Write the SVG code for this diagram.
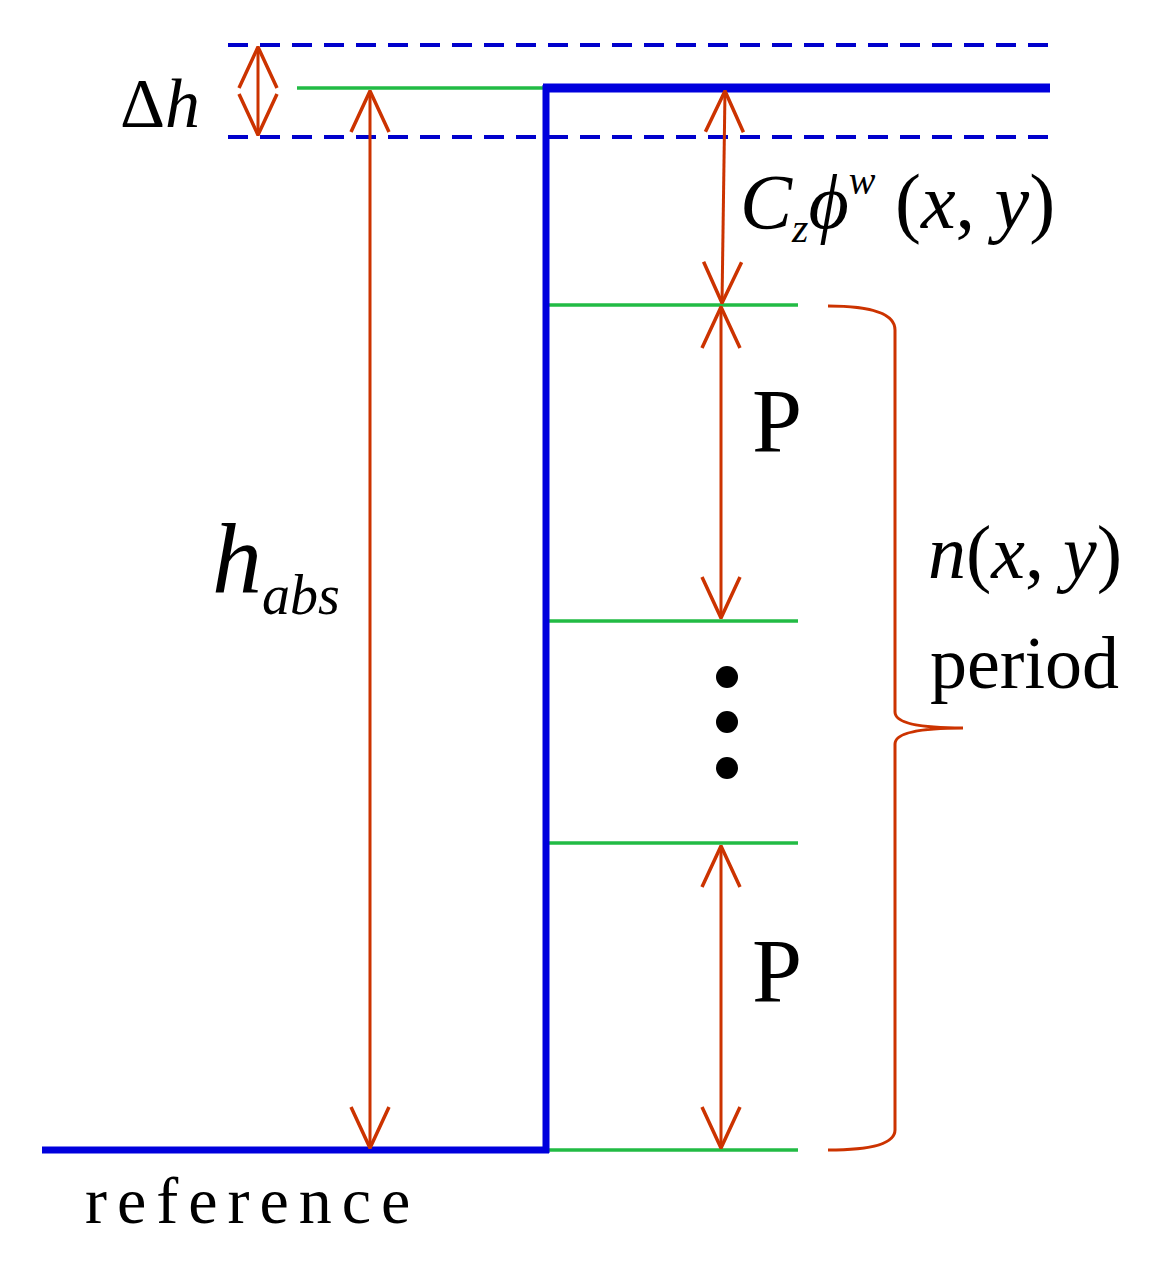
<svg xmlns="http://www.w3.org/2000/svg" width="1160" height="1264" viewBox="0 0 1160 1264">
<style>
.dash{stroke:#0000cc;stroke-width:4;stroke-dasharray:20,12;fill:none}
.blue{stroke:#0000dd;fill:none}
.green{stroke:#22bb44;stroke-width:3.5;fill:none}
.arr{stroke:#cc3300;stroke-width:3;fill:none;marker-start:url(#ah);marker-end:url(#ah)}
.t{font-family:"Liberation Serif",serif;fill:#000}
</style>
<defs>
<marker id="ah" viewBox="0 0 44 44" refX="43" refY="22" markerWidth="44" markerHeight="44" markerUnits="userSpaceOnUse" orient="auto-start-reverse">
<path d="M2,3 L43,22 L2,41" fill="none" stroke="#cc3300" stroke-width="3.5"/>
</marker>
</defs>
<g id="lines">
<line class="dash" x1="228" y1="45" x2="1050" y2="45"/>
<line class="dash" x1="228" y1="137" x2="1050" y2="137"/>
<line class="green" x1="297" y1="88" x2="545" y2="88"/>
<line class="green" x1="548" y1="305" x2="798" y2="305"/>
<line class="green" x1="548" y1="621" x2="798" y2="621"/>
<line class="green" x1="548" y1="843" x2="798" y2="843"/>
<line class="green" x1="548" y1="1150" x2="798" y2="1150"/>
<line class="blue" stroke-width="9" x1="543" y1="88" x2="1050" y2="88"/>
<line class="blue" stroke-width="7" x1="546" y1="85" x2="546" y2="1153"/>
<line class="blue" stroke-width="7" x1="42" y1="1150" x2="549" y2="1150"/>
</g>
<g id="connectors">
<line class="arr" x1="258" y1="47" x2="258" y2="135"/>
<line class="arr" x1="370" y1="91" x2="370" y2="1148"/>
<line class="arr" x1="725" y1="91" x2="722" y2="303"/>
<line class="arr" x1="721" y1="307" x2="721" y2="618"/>
<line class="arr" x1="721" y1="846" x2="721" y2="1148"/>
<path d="M828,306 Q895,306 895,330 L895,712 Q895,728 963,728 Q895,728 895,744 L895,1130 Q895,1150 828,1150" fill="none" stroke="#cc3300" stroke-width="3"/>
</g>
<g id="dots" fill="#000">
<circle cx="727" cy="677" r="11"/>
<circle cx="727" cy="722" r="11"/>
<circle cx="727" cy="768" r="11"/>
</g>
<g id="labels">
<text class="t" x="120" y="127" font-size="70">Δ<tspan font-style="italic">h</tspan></text>
<text class="t" x="740" y="228" font-size="78" font-style="italic">C<tspan font-size="42" dy="14">z</tspan><tspan dy="-14">ϕ</tspan><tspan font-size="40" dy="-34">w</tspan><tspan dy="34" font-style="normal"> (</tspan>x<tspan font-style="normal">, </tspan>y<tspan font-style="normal">)</tspan></text>
<text class="t" x="752" y="452" font-size="90">P</text>
<text class="t" x="752" y="1002" font-size="90">P</text>
<text class="t" x="212" y="592" font-size="100" font-style="italic">h<tspan font-size="56" dy="22">abs</tspan></text>
<text class="t" x="928" y="578" font-size="76"><tspan font-style="italic">n</tspan>(<tspan font-style="italic">x</tspan>, <tspan font-style="italic">y</tspan>)</text>
<text class="t" x="930" y="688" font-size="74">period</text>
<text class="t" x="85" y="1223" font-size="66" letter-spacing="10">reference</text>
</g>
</svg>
